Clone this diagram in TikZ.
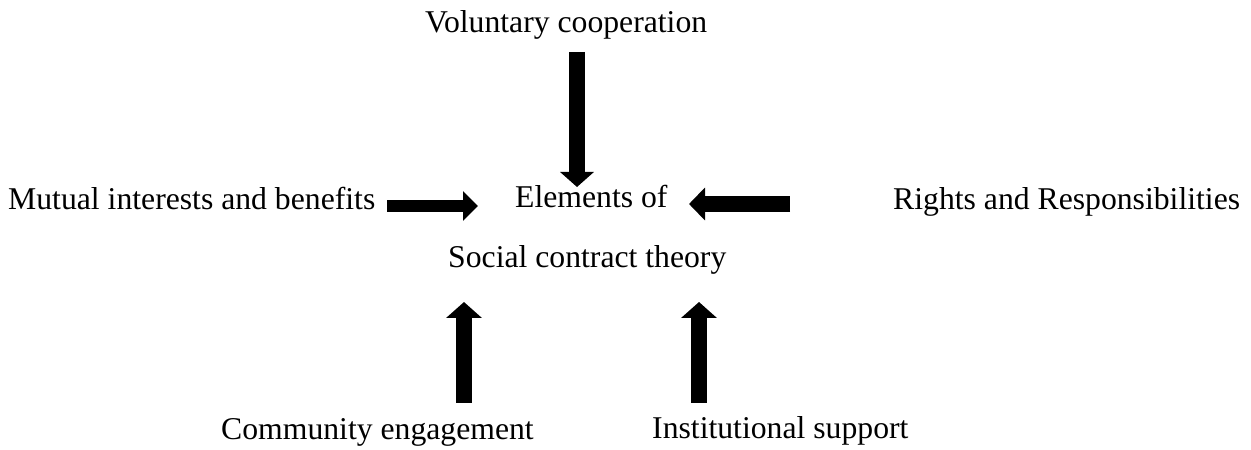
\documentclass[tikz,border=0pt]{standalone}
\usepackage{fontspec}
\setmainfont{Liberation Serif}
\usetikzlibrary{arrows.meta}
\begin{document}
\begin{tikzpicture}[x=1pt,y=1pt,
  label/.style={inner sep=0pt,anchor=base west,font=\fontsize{31.7}{38}\selectfont},
  blockarrow/.style={line width=16pt,-{Triangle[width=33pt,length=15pt]}},
  slimarrow/.style={line width=12pt,-{Triangle[width=29pt,length=15pt]}}]
\useasboundingbox (0,0) rectangle (1251,450);

% labels
\node[label] (vol) at (425,417) {Voluntary cooperation};
\node[label] (mut) at (8,240) {Mutual interests and benefits};
\node[label] (ele) at (515,242) {Elements of};
\node[label] (rig) at (893,240) {Rights and Responsibilities};
\node[label] (soc) at (448,182) {Social contract theory};
\node[label] (com) at (221,10) {Community engagement};
\node[label] (ins) at (652,12) {Institutional support};

% arrow end points
\coordinate (volA) at (577,398);
\coordinate (volB) at (577,263);
\coordinate (mutA) at (387,244);
\coordinate (mutB) at (478,244);
\coordinate (rigA) at (790,246);
\coordinate (rigB) at (689,246);
\coordinate (comA) at (464,47);
\coordinate (comB) at (464,148);
\coordinate (insA) at (699,47);
\coordinate (insB) at (699,148);

% block arrows pointing at the central label
\draw[blockarrow] (volA) -- (volB);
\draw[slimarrow] (mutA) -- (mutB);
\draw[blockarrow,-{Triangle[width=32pt,length=16pt]}] (rigA) -- (rigB);
\draw[blockarrow,-{Triangle[width=35pt,length=16pt]}] (comA) -- (comB);
\draw[blockarrow,-{Triangle[width=35pt,length=16pt]}] (insA) -- (insB);
\end{tikzpicture}
\end{document}
